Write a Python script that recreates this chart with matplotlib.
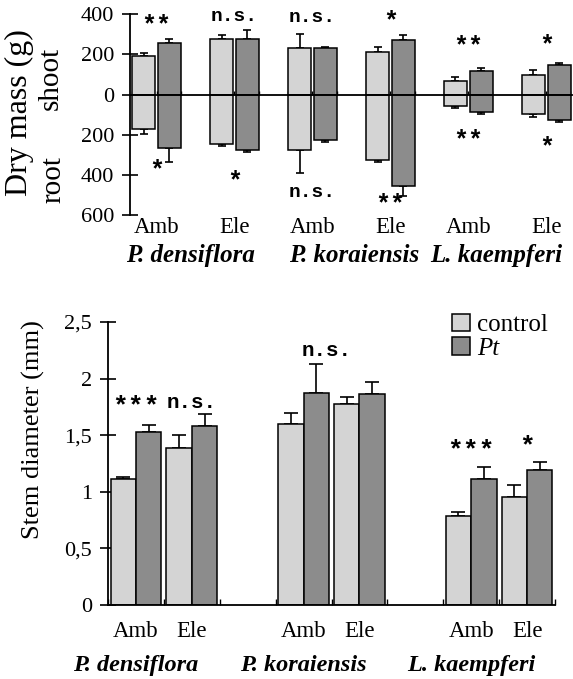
import numpy as np
import matplotlib.pyplot as plt
from matplotlib.patches import Patch
from matplotlib.transforms import blended_transform_factory, ScaledTranslation

plt.rcParams['font.family'] = 'Liberation Serif'

species = ['P. densiflora', 'P. koraiensis', 'L. kaempferi']
co2 = ['Amb', 'Ele', 'Amb', 'Ele', 'Amb', 'Ele']

# dry mass (g): shoot up, root down
shoot_control = [192, 275, 233, 212, 67, 98]
shoot_control_err = [13, 20, 67, 25, 21, 22]
shoot_pt = [258, 275, 233, 270, 117, 145]
shoot_pt_err = [20, 45, 4, 25, 16, 13]
root_control = [172, 245, 278, 328, 55, 97]
root_control_err = [26, 10, 114, 10, 12, 16]
root_pt = [268, 278, 225, 455, 87, 128]
root_pt_err = [70, 9, 12, 50, 10, 10]
shoot_sig = ['**', 'n.s.', 'n.s.', '*', '**', '*']
root_sig = ['*', '*', 'n.s.', '**', '**', '*']

# stem diameter (mm)
stem_control = [1.11, 1.39, 1.60, 1.78, 0.79, 0.955]
stem_control_err = [0.02, 0.11, 0.10, 0.06, 0.03, 0.105]
stem_pt = [1.53, 1.58, 1.87, 1.86, 1.115, 1.19]
stem_pt_err = [0.06, 0.11, 0.26, 0.11, 0.105, 0.075]
stem_sig = ['***', 'n.s.', 'n.s.', '***', '*']

C_CTRL = '#d4d4d4'
C_PT = '#8c8c8c'
W, H = 573, 679
SIGFONT = 'Liberation Mono'


def fy(px):
    return 1 - px / H


fig = plt.figure(figsize=(W / 100, H / 100), dpi=100)
OFFSET = ScaledTranslation(0, -3 / 72, fig.dpi_scale_trans)


def sig_text(ax, x, y, lab, size):
    # asterisks in the mono font are small and sit high, enlarge and drop them a bit
    if set(lab) == {'*'}:
        ax.text(x, y, lab, family=SIGFONT, weight='bold', fontsize=size + 4,
                ha='center', va='center', transform=ax.transData + OFFSET)
    else:
        ax.text(x, y, lab, family=SIGFONT, weight='bold', fontsize=size,
                ha='center', va='center')


# ---------------- top panel: dry mass ----------------
ax1 = fig.add_axes([130 / W, fy(215), (572 - 130) / W, (215 - 14.3) / H])
x1 = np.arange(6)
off, bw = 0.165, 0.295
ekw = dict(fmt='none', ecolor='k', elinewidth=1.2, capsize=3, capthick=1.2)
sc, rc = np.array(shoot_control), np.array(root_control)
sp, rp = np.array(shoot_pt), np.array(root_pt)
for xs, s, r, se, re, c in [(x1 - off, sc, rc, shoot_control_err, root_control_err, C_CTRL),
                           (x1 + off, sp, rp, shoot_pt_err, root_pt_err, C_PT)]:
    ax1.bar(xs, s, bw, color=c, edgecolor='k', linewidth=1.1, zorder=2)
    ax1.bar(xs, -r, bw, color=c, edgecolor='k', linewidth=1.1, zorder=2)
    ax1.errorbar(xs, s, yerr=[np.zeros(6), se], zorder=1, **ekw)
    ax1.errorbar(xs, -r, yerr=[re, np.zeros(6)], zorder=1, **ekw)

ax1.set_xlim(-0.34, 5.33)
ax1.set_ylim(-600, 400)
for s in ['top', 'right']:
    ax1.spines[s].set_visible(False)
ax1.spines['bottom'].set_position(('data', 0))
ax1.spines['left'].set_linewidth(1.3)
ax1.spines['bottom'].set_linewidth(1.3)
ax1.set_yticks([400, 200, 0, -200, -400, -600])
ax1.set_yticklabels(['400', '200', '0', '200', '400', '600'])
ax1.tick_params(axis='y', direction='inout', length=11, width=1.2, labelsize=16, pad=6)
edges = np.concatenate([x1 - 0.31, x1, x1 + 0.31])
ax1.set_xticks(edges)
ax1.tick_params(axis='x', direction='in', length=3, width=1, labelbottom=False)

shoot_sig_y = [365, 390, 385, 385, 260, 265]
root_sig_y = [-355, -410, -490, -528, -205, -240]
for i in range(6):
    sig_text(ax1, x1[i], shoot_sig_y[i], shoot_sig[i], 14)
    sig_text(ax1, x1[i], root_sig_y[i], root_sig[i], 14)

tr1 = blended_transform_factory(ax1.transData, fig.transFigure)
for i, lab in enumerate(co2):
    ax1.text(x1[i], fy(233), lab, transform=tr1, ha='center', va='baseline', fontsize=16.5)
species_x1 = [0.43, 2.53, 4.36]
for sx, sp_name in zip(species_x1, species):
    ax1.text(sx, fy(262), sp_name, transform=tr1, ha='center', va='baseline',
             fontsize=18, style='italic', weight='bold')

fig.text(19.5 / W, fy(113), 'Dry mass (g)', rotation=90, ha='center', va='center', fontsize=23)
fig.text(51 / W, fy(78), 'shoot', rotation=90, ha='center', va='center', fontsize=21)
fig.text(53 / W, fy(180), 'root', rotation=90, ha='center', va='center', fontsize=21)

# ---------------- bottom panel: stem diameter ----------------
ax2 = fig.add_axes([108 / W, fy(605), (555 - 108) / W, (605 - 322) / H])
pos = np.array([0, 1, 3, 4, 6, 7])
bw2 = 0.455
ekw2 = dict(fmt='none', ecolor='k', elinewidth=1.2, capsize=5, capthick=1.2)
ax2.bar(pos - bw2 / 2, stem_control, bw2, color=C_CTRL, edgecolor='k', linewidth=1.1,
        zorder=2, label='control')
ax2.bar(pos + bw2 / 2, stem_pt, bw2, color=C_PT, edgecolor='k', linewidth=1.1,
        zorder=2, label='Pt')
ax2.errorbar(pos - bw2 / 2, stem_control, yerr=[np.zeros(6), stem_control_err], zorder=1, **ekw2)
ax2.errorbar(pos + bw2 / 2, stem_pt, yerr=[np.zeros(6), stem_pt_err], zorder=1, **ekw2)

ax2.set_xlim(-0.5, 7.5)
ax2.set_ylim(0, 2.5)
for s in ['top', 'right']:
    ax2.spines[s].set_visible(False)
ax2.spines['left'].set_linewidth(1.3)
ax2.spines['bottom'].set_linewidth(1.3)
ax2.set_yticks([0, 0.5, 1, 1.5, 2, 2.5])
ax2.set_yticklabels(['0', '0,5', '1', '1,5', '2', '2,5'])
ax2.tick_params(axis='y', direction='inout', length=11, width=1.2, labelsize=16, pad=6)
ax2.set_xticks(np.arange(-0.5, 8, 1))
ax2.tick_params(axis='x', direction='in', length=4, width=1, labelbottom=False)

stem_sig_x = [0, 1, 3.42, 6, 7]
stem_sig_y = [1.79, 1.79, 2.25, 1.40, 1.44]
for lab, xs, ys in zip(stem_sig, stem_sig_x, stem_sig_y):
    sig_text(ax2, xs, ys, lab, 15)

tr2 = blended_transform_factory(ax2.transData, fig.transFigure)
for i, lab in enumerate(co2):
    ax2.text(pos[i], fy(637), lab, transform=tr2, ha='center', va='baseline', fontsize=16.5)
for k, sp_name in enumerate(species):
    ax2.text(3 * k, fy(671), sp_name, transform=tr2, ha='center', va='baseline',
             fontsize=17.5, style='italic', weight='bold')

fig.text(33 / W, fy(430), 'Stem diameter (mm)', rotation=90, ha='center', va='center', fontsize=19)

handles = [Patch(facecolor=C_CTRL, edgecolor='k', linewidth=1.1),
           Patch(facecolor=C_PT, edgecolor='k', linewidth=1.1)]
leg = ax2.legend(handles, ['control', 'Pt'], loc='upper left', bbox_to_anchor=(0.77, 1.03),
                 frameon=False, fontsize=18, handlelength=0.7, handleheight=0.7,
                 handletextpad=0.3, labelspacing=0.05, borderpad=0, borderaxespad=0)
leg.get_texts()[1].set_fontstyle('italic')

fig.savefig('out.png', dpi=100)
